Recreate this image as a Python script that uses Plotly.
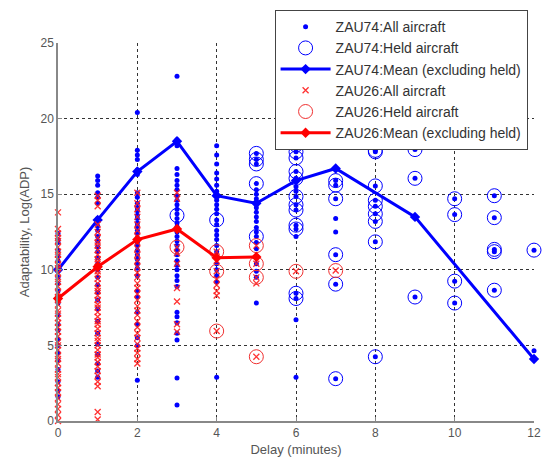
import plotly.graph_objects as go

# ---------------- data ----------------
# ZAU74: all aircraft (delay minutes -> list of adaptability values)
zau74_all = {
    0: [12.4, 12.0, 11.8, 11.3, 10.9, 10.6, 10.2, 9.9, 9.5, 9.1, 8.6, 7.8, 7.0, 6.4, 6.0, 5.4,
        5.0, 4.5, 4.0, 3.4, 2.6, 2.0, 1.6],
    1: [16.2, 15.9, 15.6, 15.1, 14.8, 14.4, 13.4, 12.9, 12.6, 12.2, 11.9, 11.5, 11.2, 10.8,
        10.4, 10.0, 9.5, 9.0, 8.5, 8.0, 7.4, 6.6, 5.8, 5.1, 4.4, 3.8, 3.3, 2.9],
    2: [20.4, 17.9, 17.6, 17.3, 16.6, 16.3, 15.1, 14.8, 14.4, 14.1, 13.9, 13.6, 13.4, 13.1,
        12.9, 12.6, 12.4, 12.1, 11.8, 11.6, 11.3, 11.0, 10.7, 10.4, 10.1, 9.6, 8.6, 8.2, 7.2,
        6.4, 5.5, 5.0, 2.7],
    3: [22.8, 18.6, 18.2, 16.7, 16.3, 15.9, 15.6, 15.3, 14.9, 14.6, 14.3, 14.0, 13.7, 13.4,
        13.1, 12.85, 12.5, 12.2, 11.9, 11.6, 11.3, 11.0, 10.6, 10.3, 10.0, 9.6, 9.3, 8.9, 7.2,
        6.9, 6.5, 5.8, 5.35, 2.85, 1.05],
    4: [18.2, 17.6, 17.0, 16.4, 16.0, 15.6, 15.2, 14.9, 14.6, 14.3, 14.0, 13.7, 13.3, 13.0,
        12.6, 12.3, 12.0, 11.6, 11.2, 10.8, 10.4, 10.0, 9.6, 9.2, 2.9],
    5: [17.7, 17.3, 17.0, 15.7, 15.3, 15.0, 14.7, 14.4, 14.1, 13.8, 13.5, 13.2, 12.8, 12.5,
        12.2, 11.8, 11.4, 10.9, 10.4, 9.9, 9.5, 7.8],
    6: [18.25, 17.8, 17.4, 16.5, 16.05, 15.9, 15.5, 15.2, 14.85, 14.3, 13.95, 12.95, 12.7,
        12.2, 8.45, 8.1, 6.7, 2.9],
    7: [18.25, 15.9, 15.6, 14.7, 13.4, 12.5, 11.0, 9.05, 2.8],
    8: [17.9, 17.8, 15.55, 14.6, 14.2, 13.7, 13.2, 11.85, 4.25],
    9: [17.95, 16.05, 13.5, 8.2],
    10: [14.7, 13.65, 9.25, 7.8],
    11: [14.9, 13.45, 11.35, 11.2, 8.65],
    12: [11.3, 4.65],
}
zau74_held = {
    3: [13.6],
    4: [13.3],
    5: [17.7, 17.3, 17.0, 15.7, 12.2],
    6: [18.25, 17.8, 17.4, 16.5, 16.05, 14.85, 14.3, 13.95, 12.95, 12.7, 8.45, 8.1],
    7: [15.9, 15.6, 14.7, 11.0, 9.05, 2.8],
    8: [17.9, 17.8, 15.55, 14.6, 14.2, 13.7, 13.2, 11.85, 4.25],
    9: [17.95, 16.05, 8.2],
    10: [14.7, 13.65, 9.25, 7.8],
    11: [14.9, 13.45, 11.35, 11.2, 8.65],
    12: [11.3],
}
zau74_mean_x = [0, 1, 2, 3, 4, 5, 6, 7, 9, 12]
zau74_mean_y = [10.0, 13.3, 16.5, 18.5, 14.9, 14.4, 15.9, 16.7, 13.5, 4.1]

# ZAU26
zau26_all = {
    0: [13.8, 12.7, 12.4, 12.1, 11.9, 11.5, 11.2, 11.0, 10.7, 10.3, 10.1, 9.8, 9.4, 9.2, 8.9,
        8.5, 8.2, 8.0, 7.7, 7.3, 7.1, 6.8, 6.5, 6.2, 5.9, 5.6, 5.2, 5.0, 4.7, 4.3, 4.1, 3.8,
        3.4, 3.1, 2.9, 2.5, 2.2, 1.9, 1.5, 1.1, 0.8, 0.4, 0.0],
    1: [14.9, 14.6, 14.2, 13.0, 12.5, 12.1, 11.8, 11.6, 11.3, 11.0, 10.7, 10.5, 10.2, 9.9,
        9.7, 9.4, 9.1, 8.8, 8.6, 8.3, 8.0, 7.7, 7.5, 7.2, 6.9, 6.6, 6.4, 6.1, 5.8, 5.5, 5.3,
        5.0, 4.7, 4.4, 4.2, 3.9, 3.6, 3.3, 3.0, 2.6, 2.3, 0.6, 0.1],
    2: [15.1, 14.4, 14.0, 13.5, 13.0, 12.6, 12.2, 11.8, 11.4, 11.0, 10.6, 10.2, 9.8, 9.5,
        9.1, 8.8, 8.4, 8.0, 7.6, 7.3, 7.0, 6.6, 6.2, 5.8, 5.5, 5.1, 4.8, 4.5, 4.1, 3.8],
    3: [15.1, 14.7, 11.5, 11.1, 10.4, 8.8, 7.9, 6.4, 5.9],
    4: [11.2, 10.6, 9.9, 9.4, 9.0, 8.6, 8.3, 5.95],
    5: [11.6, 10.4, 9.5, 9.1, 4.25],
    6: [9.9],
    7: [9.95],
}
zau26_held = {
    3: [11.5],
    4: [11.2, 9.9, 5.95],
    5: [11.6, 10.4, 9.5, 4.25],
    6: [9.9],
    7: [9.95],
}
zau26_mean_x = [0, 1, 2, 3, 4, 5]
zau26_mean_y = [8.1, 10.2, 12.0, 12.7, 10.8, 10.85]

x_ticks = [0, 2, 4, 6, 8, 10, 12]
y_ticks = [0, 5, 10, 15, 20, 25]


def flatten(d):
    xs, ys = [], []
    for k, vals in d.items():
        for v in vals:
            xs.append(k)
            ys.append(v)
    return xs, ys


BLUE = "#0000ff"
RED = "#ff0000"
FONT = "Liberation Sans, Arial, sans-serif"

fig = go.Figure()

x, y = flatten(zau74_all)
fig.add_trace(go.Scatter(x=x, y=y, mode="markers", name="ZAU74:All aircraft",
                         marker=dict(symbol="circle", size=5, color=BLUE),
                         cliponaxis=False))
x, y = flatten(zau74_held)
fig.add_trace(go.Scatter(x=x, y=y, mode="markers", name="ZAU74:Held aircraft",
                         marker=dict(symbol="circle-open", size=14, color=BLUE,
                                     line=dict(width=1, color=BLUE)),
                         cliponaxis=False))
fig.add_trace(go.Scatter(x=zau74_mean_x, y=zau74_mean_y, mode="lines+markers",
                         name="ZAU74:Mean (excluding held)",
                         line=dict(color=BLUE, width=3),
                         marker=dict(symbol="diamond", size=8, color=BLUE),
                         cliponaxis=False))
x, y = flatten(zau26_all)
fig.add_trace(go.Scatter(x=x, y=y, mode="markers", name="ZAU26:All aircraft",
                         marker=dict(symbol="x-thin", size=6, color=RED,
                                     line=dict(width=1.3, color="rgba(255,30,30,0.9)")),
                         cliponaxis=False))
x, y = flatten(zau26_held)
fig.add_trace(go.Scatter(x=x, y=y, mode="markers", name="ZAU26:Held aircraft",
                         marker=dict(symbol="circle-open", size=14, color="#f03030",
                                     line=dict(width=1, color="#f03030")),
                         cliponaxis=False))
fig.add_trace(go.Scatter(x=zau26_mean_x, y=zau26_mean_y, mode="lines+markers",
                         name="ZAU26:Mean (excluding held)",
                         line=dict(color=RED, width=3),
                         marker=dict(symbol="diamond", size=8, color=RED),
                         cliponaxis=False))

axis_common = dict(
    showgrid=True, gridcolor="#333333", griddash="dot", gridwidth=1,
    showline=True, linecolor="#888888", linewidth=1.5,
    ticks="inside", ticklen=4, tickcolor="#888888",
    zeroline=False, mirror=False,
    tickfont=dict(family=FONT, size=12, color="#555555"),
    title_font=dict(family=FONT, size=13, color="#555555"),
)

fig.update_layout(
    width=548, height=463,
    margin=dict(l=58, r=7, t=43, b=42),
    paper_bgcolor="white", plot_bgcolor="white",
    showlegend=True,
    legend=dict(
        x=0.455, y=1.087, xanchor="left", yanchor="top",
        bgcolor="white", bordercolor="#444444", borderwidth=1,
        font=dict(family=FONT, size=14, color="#333333"),
        tracegroupgap=0, itemwidth=50,
    ),
    xaxis=dict(range=[0, 12], tickvals=x_ticks, title=dict(text="Delay (minutes)", standoff=6),
               **axis_common),
    yaxis=dict(range=[0, 25], tickvals=y_ticks,
               title=dict(text="Adaptability, Log(ADP)", standoff=8), **axis_common),
)

fig.write_html(
    "out.html",
    config={"displayModeBar": False},
    post_script="document.body.style.margin='0';document.body.style.overflow='hidden';",
)
